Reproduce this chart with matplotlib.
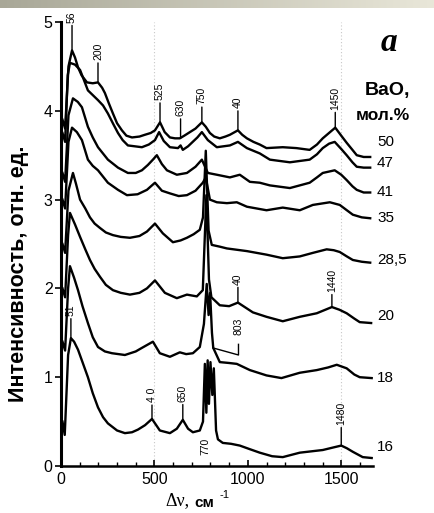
import numpy as np
import matplotlib
matplotlib.use("Agg")
import matplotlib.pyplot as plt

plt.rcParams['font.family'] = ['Liberation Sans', 'DejaVu Sans']

# BaO content, mol.% (labels on the right)
labels = ["50", "47", "41", "35", "28,5", "20", "18", "16"]

# Raman spectra, shift in cm-1 and stacked intensity
s50_x = [8, 22, 40, 59, 75, 91, 110, 139, 170, 198, 220, 235, 255, 278, 300, 326, 350, 380, 420, 449, 480, 503, 530, 555, 583, 610, 636, 660, 690, 720, 754, 775, 797, 820, 850, 880, 904, 947, 970, 995, 1030, 1064, 1100, 1187, 1260, 1331, 1370, 1401, 1440, 1468, 1500, 1529, 1560, 1583, 1620, 1655]
s50_y = [3.9, 3.8, 4.5, 4.68, 4.60, 4.49, 4.40, 4.32, 4.31, 4.32, 4.26, 4.20, 4.09, 3.97, 3.86, 3.78, 3.72, 3.70, 3.71, 3.73, 3.75, 3.78, 3.87, 3.76, 3.70, 3.69, 3.69, 3.72, 3.76, 3.80, 3.87, 3.82, 3.75, 3.71, 3.69, 3.71, 3.73, 3.78, 3.73, 3.69, 3.65, 3.62, 3.58, 3.59, 3.58, 3.56, 3.62, 3.69, 3.76, 3.81, 3.72, 3.64, 3.56, 3.50, 3.48, 3.48]

s47_x = [8, 22, 36, 48, 75, 102, 144, 198, 225, 251, 280, 305, 330, 358, 433, 470, 503, 525, 550, 583, 626, 640, 652, 680, 700, 730, 754, 786, 834, 904, 947, 995, 1064, 1118, 1225, 1331, 1370, 1401, 1435, 1465, 1500, 1529, 1560, 1583, 1620, 1655]
s47_y = [3.75, 3.65, 4.4, 4.54, 4.52, 4.46, 4.23, 4.12, 4.06, 3.97, 3.85, 3.75, 3.67, 3.61, 3.59, 3.62, 3.67, 3.76, 3.66, 3.59, 3.58, 3.61, 3.56, 3.60, 3.64, 3.70, 3.76, 3.67, 3.59, 3.61, 3.65, 3.58, 3.52, 3.45, 3.42, 3.45, 3.51, 3.58, 3.63, 3.65, 3.57, 3.50, 3.42, 3.37, 3.36, 3.36]

s41_x = [8, 22, 40, 64, 90, 112, 144, 170, 198, 251, 305, 358, 400, 433, 465, 492, 513, 540, 567, 620, 674, 720, 754, 786, 834, 904, 957, 1011, 1064, 1118, 1225, 1331, 1370, 1401, 1465, 1500, 1529, 1560, 1583, 1620, 1655]
s41_y = [3.3, 3.2, 3.95, 4.14, 4.10, 4.04, 3.82, 3.70, 3.59, 3.45, 3.36, 3.30, 3.30, 3.33, 3.39, 3.45, 3.50, 3.40, 3.33, 3.28, 3.30, 3.37, 3.45, 3.30, 3.28, 3.25, 3.28, 3.20, 3.19, 3.16, 3.13, 3.19, 3.25, 3.30, 3.33, 3.28, 3.22, 3.15, 3.11, 3.08, 3.08]

s35_x = [8, 22, 40, 59, 85, 112, 144, 170, 198, 251, 305, 353, 410, 460, 503, 540, 583, 630, 674, 720, 759, 775, 797, 834, 888, 941, 995, 1100, 1187, 1278, 1348, 1439, 1492, 1530, 1562, 1610, 1655]
s35_y = [3.0, 2.9, 3.65, 3.81, 3.76, 3.67, 3.45, 3.38, 3.33, 3.19, 3.11, 3.05, 3.06, 3.11, 3.19, 3.10, 3.07, 3.04, 3.05, 3.10, 3.19, 3.25, 3.0, 2.97, 2.96, 2.97, 2.92, 2.88, 2.91, 2.88, 2.94, 2.97, 2.94, 2.88, 2.83, 2.80, 2.79]

s28_x = [8, 22, 40, 64, 80, 102, 130, 155, 180, 209, 240, 278, 320, 369, 420, 460, 503, 545, 599, 640, 674, 710, 743, 760, 775, 790, 807, 850, 888, 995, 1100, 1187, 1278, 1348, 1422, 1460, 1492, 1530, 1562, 1610, 1655]
s28_y = [2.5, 2.4, 3.1, 3.30, 3.18, 3.0, 2.90, 2.80, 2.73, 2.68, 2.63, 2.60, 2.58, 2.57, 2.59, 2.64, 2.73, 2.62, 2.52, 2.54, 2.57, 2.61, 2.66, 2.8, 3.55, 2.65, 2.49, 2.47, 2.45, 2.42, 2.38, 2.34, 2.36, 2.40, 2.44, 2.43, 2.41, 2.36, 2.32, 2.30, 2.29]

s20_x = [8, 22, 38, 48, 75, 102, 130, 155, 180, 209, 240, 278, 320, 369, 420, 460, 503, 556, 620, 674, 727, 759, 778, 792, 805, 850, 900, 947, 1027, 1100, 1187, 1278, 1369, 1450, 1490, 1529, 1570, 1599, 1660]
s20_y = [2.0, 1.9, 2.6, 2.85, 2.72, 2.58, 2.44, 2.32, 2.22, 2.13, 2.04, 1.98, 1.95, 1.93, 1.95, 2.0, 2.09, 1.95, 1.89, 1.93, 1.91, 1.98, 3.05, 2.1, 1.9, 1.81, 1.80, 1.84, 1.73, 1.68, 1.63, 1.68, 1.72, 1.79, 1.76, 1.72, 1.66, 1.62, 1.61]

s18_x = [8, 22, 38, 48, 70, 91, 115, 144, 170, 198, 235, 273, 342, 400, 433, 492, 529, 583, 636, 670, 706, 743, 765, 780, 790, 798, 808, 815, 850, 900, 941, 1011, 1100, 1180, 1278, 1369, 1430, 1476, 1529, 1570, 1599, 1663]
s18_y = [1.4, 1.3, 2.0, 2.25, 2.12, 1.98, 1.80, 1.61, 1.45, 1.34, 1.29, 1.27, 1.25, 1.29, 1.33, 1.40, 1.27, 1.23, 1.28, 1.26, 1.27, 1.34, 1.6, 2.05, 1.7, 1.95, 1.5, 1.33, 1.17, 1.16, 1.15, 1.08, 1.02, 0.99, 1.05, 1.08, 1.11, 1.14, 1.10, 1.03, 1.00, 0.99]

s16_x = [8, 20, 38, 53, 70, 91, 115, 144, 170, 198, 225, 251, 300, 342, 380, 412, 450, 487, 529, 583, 620, 652, 680, 706, 743, 760, 770, 778, 785, 792, 800, 810, 818, 830, 840, 866, 910, 957, 1010, 1064, 1130, 1187, 1278, 1401, 1460, 1500, 1530, 1562, 1615, 1663]
s16_y = [0.5, 0.35, 1.25, 1.44, 1.40, 1.31, 1.17, 1.0, 0.82, 0.66, 0.55, 0.48, 0.40, 0.37, 0.38, 0.41, 0.46, 0.53, 0.40, 0.37, 0.42, 0.52, 0.42, 0.38, 0.40, 0.5, 1.15, 0.6, 1.19, 0.7, 1.17, 0.8, 1.1, 0.4, 0.3, 0.26, 0.25, 0.23, 0.19, 0.15, 0.11, 0.10, 0.15, 0.18, 0.21, 0.23, 0.20, 0.16, 0.10, 0.09]

series_x = [s50_x, s47_x, s41_x, s35_x, s28_x, s20_x, s18_x, s16_x]
series_y = [s50_y, s47_y, s41_y, s35_y, s28_y, s20_y, s18_y, s16_y]

# band labels: text, shift, intensity at the band, tick length (pt)
bands = [("56", 59, 4.68, 18), ("200", 198, 4.32, 14), ("525", 530, 3.87, 14),
         ("630", 640, 3.69, 14), ("750", 754, 3.87, 11), ("40", 947, 3.78, 14),
         ("1450", 1468, 3.81, 11), ("40", 947, 1.84, 11), ("1440", 1450, 1.79, 9),
         ("51", 53, 1.44, 14), ("4 0", 487, 0.53, 10), ("650", 652, 0.52, 11),
         ("1480", 1500, 0.23, 13)]

fig = plt.figure(figsize=(4.34, 5.13), dpi=100)

# slide header strip
hdr = fig.add_axes([0, 1 - 8 / 513, 1, 8 / 513])
grad = np.linspace(0, 1, 256).reshape(1, -1)
cm = matplotlib.colors.LinearSegmentedColormap.from_list("hdr", ["#a8a797", "#e9e7d9"])
hdr.imshow(grad, aspect="auto", cmap=cm)
hdr.axis("off")

ax = fig.add_axes([61 / 434, 1 - 466 / 513, 312 / 434, 444 / 513])
ax.set_xlim(0, 1670)
ax.set_ylim(0, 5)

for xv in (500, 1500):
    ax.axvline(xv, color="#c8c8c8", lw=0.8, ls=(0, (1, 2)), zorder=0)

for xs, ys in zip(series_x, series_y):
    ax.plot(xs, ys, color="black", lw=1.7, solid_joinstyle="round", clip_on=False)

for txt, bx, by, ln in bands:
    ax.annotate("", xy=(bx, by), xytext=(0, ln), textcoords="offset points",
                arrowprops=dict(arrowstyle="-", lw=1.0, color="black", shrinkA=0, shrinkB=0),
                annotation_clip=False)
    ax.annotate(txt, xy=(bx, by), xytext=(0, ln + 2), textcoords="offset points",
                rotation=90, ha="center", va="bottom", fontsize=7.5, annotation_clip=False)

# 803 bracket on the 18 curve
ax.plot([813, 950, 950], [1.33, 1.25, 1.37], color="black", lw=1.0, clip_on=False)
ax.text(950, 1.48, "803", rotation=90, ha="center", va="bottom", fontsize=7.5)
ax.text(775, 0.12, "770", rotation=90, ha="center", va="bottom", fontsize=7.5)

label_px = [142, 163, 192, 218, 260, 316, 378, 447]
for lab, py in zip(labels, label_px):
    fig.text(377 / 434, 1 - py / 513, lab, fontsize=11, va="center", ha="left")

fig.text(365 / 434, 1 - 91 / 513, "BaO,", fontsize=14, fontweight="bold", va="center", ha="left")
fig.text(356 / 434, 1 - 116 / 513, "мол.%", fontsize=12.5, fontweight="bold", va="center", ha="left")
fig.text(381 / 434, 1 - 43 / 513, "a", fontsize=24, fontweight="bold", fontstyle="italic",
         family="Liberation Serif", va="center", ha="left")

ax.set_xticks([0, 500, 1000, 1500])
ax.set_xticks(np.arange(100, 1700, 100), minor=True)
ax.set_yticks([0, 1, 2, 3, 4, 5])
ax.tick_params(axis="x", direction="in", length=4, width=1.2, labelsize=11.5, pad=4)
ax.tick_params(axis="x", which="minor", direction="in", length=3, width=1.0)
ax.tick_params(axis="y", direction="out", length=4, width=1.2, labelsize=11.5, pad=2)
ax.spines["top"].set_visible(False)
ax.spines["right"].set_visible(False)
ax.spines["left"].set_linewidth(2.2)
ax.spines["bottom"].set_linewidth(1.8)

fig.text(19 / 434, 1 - 274 / 513, "Интенсивность, отн. ед.", rotation=90, fontsize=15.5,
         fontweight="bold", ha="center", va="center")
fig.text(165 / 434, 1 - 501 / 513, "Δν,", family="Liberation Serif", fontsize=13,
         ha="left", va="center")
fig.text(194 / 434, 1 - 503 / 513, "см", fontsize=11, fontweight="bold", ha="left", va="center")
fig.text(220 / 434, 1 - 495 / 513, "-1", fontsize=8, ha="left", va="center")

fig.savefig("out.png", dpi=100, facecolor="white")
